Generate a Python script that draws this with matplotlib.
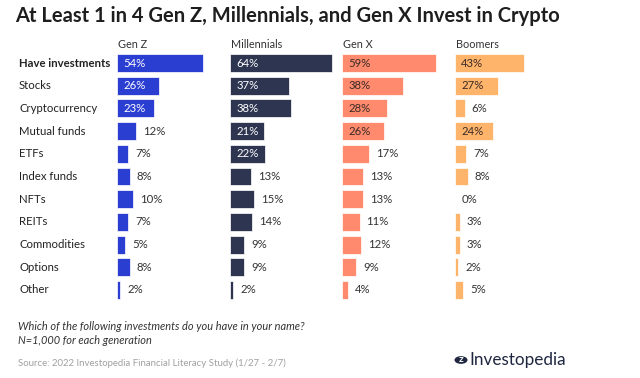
import matplotlib.pyplot as plt
from matplotlib.transforms import blended_transform_factory
from matplotlib.patches import Circle

plt.rcParams['font.family'] = ['Lato', 'DejaVu Sans']

# data
categories = ['Have investments', 'Stocks', 'Cryptocurrency', 'Mutual funds', 'ETFs',
              'Index funds', 'NFTs', 'REITs', 'Commodities', 'Options', 'Other']
generations = ['Gen Z', 'Millennials', 'Gen X', 'Boomers']
gen_z = [54, 26, 23, 12, 7, 8, 10, 7, 5, 8, 2]
millennials = [64, 37, 38, 21, 22, 13, 15, 14, 9, 9, 2]
gen_x = [59, 38, 28, 26, 17, 13, 13, 11, 12, 9, 4]
boomers = [43, 27, 6, 24, 7, 8, 0, 3, 3, 2, 5]

series = [gen_z, millennials, gen_x, boomers]
colors = ['#2B3ED2', '#2D3550', '#FF8A6E', '#FFB46B']
inside_text = ['white', 'white', '#3A2A25', '#3A2A25']

W, H = 640, 378
fig = plt.figure(figsize=(6.4, 3.78), dpi=100)
fig.patch.set_facecolor('white')

# panel geometry in pixels
panel_x = [117, 230, 342, 455]
panel_w = 112
top_px, bot_px = 51.7, 301.3

axes = []
for i, (vals, col) in enumerate(zip(series, colors)):
    ax = fig.add_axes([panel_x[i] / W, 1 - bot_px / H, panel_w / W, (bot_px - top_px) / H])
    y = range(len(categories))
    ax.barh(y, vals, height=0.79, color=col, edgecolor='white', linewidth=0.5)
    ax.set_xlim(0, 70)
    ax.set_ylim(len(categories) - 0.5, -0.5)
    ax.axis('off')
    for j, v in enumerate(vals):
        if v >= 20:
            ax.annotate(f'{v}%', (0, j), xytext=(4.5, 0), textcoords='offset points',
                        ha='left', va='center', fontsize=8.2, color=inside_text[i])
        else:
            ax.annotate(f'{v}%', (v, j), xytext=(5, 0), textcoords='offset points',
                        ha='left', va='center', fontsize=8.2, color='#333333')
    ax.text(0.01, 1.0 + 2 / (bot_px - top_px), generations[i], transform=ax.transAxes,
            ha='left', va='bottom', fontsize=7.8, color='#333333')
    axes.append(ax)

# row labels
trans = blended_transform_factory(fig.transFigure, axes[0].transData)
for j, cat in enumerate(categories):
    axes[0].text(19 / W, j, cat, transform=trans, ha='left', va='center',
                 fontsize=8.2, color='#222222',
                 fontweight='bold' if j == 0 else 'normal')

# title
fig.text(15 / W, 1 - 16 / H, 'At Least 1 in 4 Gen Z, Millennials, and Gen X Invest in Crypto',
         ha='left', va='center', fontsize=14.5, fontweight='bold', color='#1E1E1E')

# footer
fig.text(18 / W, 1 - 327 / H, 'Which of the following investments do you have in your name?',
         ha='left', va='center', fontsize=7.9, style='italic', color='#333333')
fig.text(18 / W, 1 - 341 / H, 'N=1,000 for each generation',
         ha='left', va='center', fontsize=7.9, style='italic', color='#333333')
fig.text(18 / W, 1 - 363 / H, 'Source: 2022 Investopedia Financial Literacy Study (1/27 - 2/7)',
         ha='left', va='center', fontsize=6.9, color='#A0A0A0')

# logo
fig.patches.append(Circle((461 / W, 1 - 360 / H), 6.5 / W, transform=fig.transFigure,
                          facecolor='#1F2640', edgecolor='none'))
fig.text(461 / W, 1 - 360 / H, 'z', ha='center', va='center', fontsize=7.5,
         fontweight='bold', color='white')
fig.text(469 / W, 1 - 360 / H, 'Investopedia', ha='left', va='center',
         fontsize=12.3, color='#1F2640')

fig.savefig('out.png', dpi=100)
